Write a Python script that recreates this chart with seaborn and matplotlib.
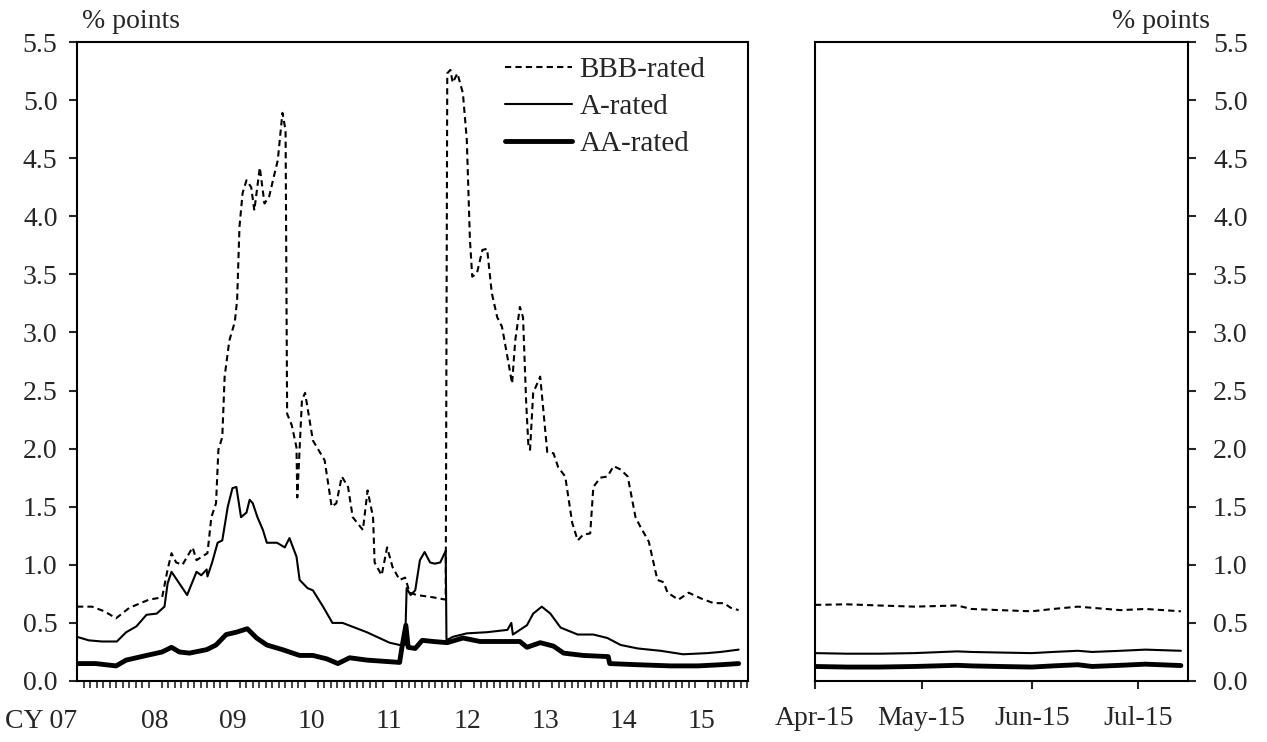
import numpy as np
import pandas as pd
import seaborn as sns
import matplotlib
matplotlib.use('Agg')
import matplotlib.pyplot as plt
from matplotlib.ticker import MultipleLocator

# ---- long history (x = calendar year, decimal) ----
bbb_t = [2007.00, 2007.19, 2007.35, 2007.50, 2007.67, 2007.92, 2008.09, 2008.16, 2008.21, 2008.27,
         2008.35, 2008.48, 2008.53, 2008.67, 2008.72, 2008.78, 2008.81, 2008.86, 2008.89, 2008.95,
         2009.02, 2009.05, 2009.08, 2009.12, 2009.17, 2009.23, 2009.27, 2009.34, 2009.40, 2009.46,
         2009.53, 2009.57, 2009.63, 2009.67, 2009.69, 2009.75, 2009.81, 2009.82, 2009.88, 2009.92,
         2010.02, 2010.17, 2010.26, 2010.32, 2010.39, 2010.47, 2010.53, 2010.66, 2010.72, 2010.79,
         2010.81, 2010.90, 2010.97, 2011.04, 2011.13, 2011.20, 2011.26, 2011.35, 2011.56, 2011.72,
         2011.74, 2011.78, 2011.81, 2011.87, 2011.94, 2011.99, 2012.03, 2012.06, 2012.12, 2012.19,
         2012.25, 2012.31, 2012.38, 2012.44, 2012.51, 2012.57, 2012.61, 2012.67, 2012.71, 2012.75,
         2012.78, 2012.80, 2012.84, 2012.93, 2013.02, 2013.10, 2013.16, 2013.25, 2013.34, 2013.41,
         2013.48, 2013.57, 2013.61, 2013.70, 2013.79, 2013.87, 2013.96, 2014.05, 2014.15, 2014.21,
         2014.32, 2014.43, 2014.51, 2014.56, 2014.70, 2014.83, 2014.99, 2015.15, 2015.28, 2015.37,
         2015.47]
bbb_v = [0.64, 0.64, 0.60, 0.54, 0.63, 0.70, 0.72, 0.96, 1.10, 1.02,
         1.00, 1.15, 1.04, 1.10, 1.41, 1.53, 1.99, 2.10, 2.62, 2.93,
         3.09, 3.28, 3.91, 4.20, 4.31, 4.25, 4.05, 4.42, 4.11, 4.17,
         4.37, 4.48, 4.89, 4.74, 2.30, 2.20, 2.01, 1.58, 2.42, 2.48,
         2.07, 1.90, 1.50, 1.53, 1.76, 1.67, 1.41, 1.30, 1.64, 1.41,
         1.02, 0.91, 1.15, 0.98, 0.87, 0.89, 0.76, 0.74, 0.72, 0.70,
         5.23, 5.26, 5.15, 5.23, 5.06, 4.66, 3.80, 3.48, 3.51, 3.71,
         3.72, 3.34, 3.13, 3.05, 2.79, 2.56, 2.93, 3.22, 3.13, 2.40,
         2.01, 1.99, 2.48, 2.62, 1.97, 1.96, 1.84, 1.76, 1.36, 1.21,
         1.26, 1.27, 1.67, 1.75, 1.76, 1.85, 1.82, 1.76, 1.41, 1.33,
         1.20, 0.87, 0.85, 0.76, 0.70, 0.76, 0.71, 0.67, 0.67, 0.63,
         0.61]

a_t = [2007.00, 2007.15, 2007.32, 2007.51, 2007.63, 2007.76, 2007.89, 2008.02, 2008.12, 2008.16,
       2008.21, 2008.31, 2008.41, 2008.53, 2008.59, 2008.66, 2008.67, 2008.73, 2008.80, 2008.86,
       2008.93, 2008.99, 2009.04, 2009.10, 2009.17, 2009.21, 2009.25, 2009.31, 2009.38, 2009.43,
       2009.56, 2009.66, 2009.72, 2009.81, 2009.85, 2009.95, 2010.02, 2010.15, 2010.27, 2010.40,
       2010.71, 2011.00, 2011.13, 2011.20, 2011.22, 2011.27, 2011.33, 2011.39, 2011.45, 2011.52,
       2011.58, 2011.65, 2011.72, 2011.73, 2011.81, 2011.99, 2012.25, 2012.51, 2012.56, 2012.58,
       2012.76, 2012.84, 2012.95, 2013.06, 2013.19, 2013.41, 2013.61, 2013.79, 2013.96, 2014.18,
       2014.47, 2014.76, 2015.07, 2015.24, 2015.47]
a_v = [0.38, 0.35, 0.34, 0.34, 0.42, 0.47, 0.57, 0.58, 0.64, 0.84,
       0.94, 0.84, 0.74, 0.94, 0.91, 0.96, 0.90, 1.02, 1.19, 1.21,
       1.50, 1.66, 1.67, 1.41, 1.45, 1.56, 1.53, 1.41, 1.30, 1.19,
       1.19, 1.15, 1.23, 1.07, 0.87, 0.80, 0.78, 0.64, 0.50, 0.50,
       0.42, 0.33, 0.31, 0.31, 0.80, 0.74, 0.78, 1.04, 1.11, 1.02,
       1.01, 1.02, 1.12, 0.35, 0.38, 0.41, 0.42, 0.44, 0.50, 0.40,
       0.48, 0.58, 0.64, 0.58, 0.46, 0.40, 0.40, 0.37, 0.31, 0.28,
       0.26, 0.23, 0.24, 0.25, 0.27]

aa_t = [2007.00, 2007.24, 2007.50, 2007.63, 2007.89, 2008.09, 2008.21, 2008.31, 2008.44, 2008.66,
        2008.78, 2008.91, 2009.04, 2009.18, 2009.30, 2009.43, 2009.63, 2009.85, 2010.02, 2010.20,
        2010.34, 2010.49, 2010.71, 2010.92, 2011.13, 2011.16, 2011.21, 2011.24, 2011.33, 2011.42,
        2011.56, 2011.74, 2011.94, 2012.16, 2012.42, 2012.67, 2012.76, 2012.93, 2013.10, 2013.23,
        2013.48, 2013.80, 2013.82, 2014.18, 2014.60, 2014.95, 2015.24, 2015.47]
aa_v = [0.15, 0.15, 0.13, 0.18, 0.22, 0.25, 0.29, 0.25, 0.24, 0.27,
        0.31, 0.40, 0.42, 0.45, 0.37, 0.31, 0.27, 0.22, 0.22, 0.19,
        0.15, 0.20, 0.18, 0.17, 0.16, 0.29, 0.48, 0.29, 0.28, 0.35,
        0.34, 0.33, 0.37, 0.34, 0.34, 0.34, 0.29, 0.33, 0.30, 0.24,
        0.22, 0.21, 0.15, 0.14, 0.13, 0.13, 0.14, 0.15]

year_ticks = [2007, 2008, 2009, 2010, 2011, 2012, 2013, 2014, 2015]
year_labels = ['CY 07', '08', '09', '10', '11', '12', '13', '14', '15']

# ---- recent months ----
recent_dates = ['2015-04-01', '2015-04-10', '2015-04-19', '2015-04-29', '2015-05-11', '2015-05-15',
                '2015-05-23', '2015-06-01', '2015-06-07', '2015-06-14', '2015-06-18', '2015-06-26',
                '2015-07-03', '2015-07-13']
recent_bbb = [0.655, 0.66, 0.65, 0.64, 0.65, 0.62, 0.61, 0.60, 0.62, 0.64, 0.63, 0.61, 0.62, 0.60]
recent_a = [0.24, 0.235, 0.235, 0.24, 0.255, 0.25, 0.245, 0.24, 0.25, 0.26, 0.25, 0.26, 0.27, 0.26]
recent_aa = [0.125, 0.12, 0.12, 0.125, 0.135, 0.13, 0.125, 0.12, 0.13, 0.14, 0.125, 0.135, 0.145, 0.133]
month_ticks = ['2015-04-01', '2015-05-01', '2015-06-01', '2015-07-01']
month_labels = ['Apr-15', 'May-15', 'Jun-15', 'Jul-15']

sns.set_style('white')
plt.rcParams['font.family'] = ['Liberation Serif', 'DejaVu Serif']
plt.rcParams['font.size'] = 20

fig = plt.figure(figsize=(12.67, 7.42), dpi=100)
ax1 = fig.add_axes([77 / 1267, 61 / 742, 671 / 1267, 639 / 742])
ax2 = fig.add_axes([815 / 1267, 61 / 742, 373 / 1267, 639 / 742])

dash = (0, (3, 2))
common = dict(color='black', sort=False, estimator=None)

sns.lineplot(x=bbb_t, y=bbb_v, ax=ax1, lw=1.5, linestyle=dash, label='BBB-rated', **common)
sns.lineplot(x=a_t, y=a_v, ax=ax1, lw=1.5, label='A-rated', **common)
sns.lineplot(x=aa_t, y=aa_v, ax=ax1, lw=3.5, label='AA-rated', **common)

rd = pd.to_datetime(recent_dates)
sns.lineplot(x=rd, y=recent_bbb, ax=ax2, lw=1.5, linestyle=dash, **common)
sns.lineplot(x=rd, y=recent_a, ax=ax2, lw=1.5, **common)
sns.lineplot(x=rd, y=recent_aa, ax=ax2, lw=3.5, **common)

for ax in (ax1, ax2):
    ax.set_ylim(0, 5.5)
    ax.yaxis.set_major_locator(MultipleLocator(0.5))
    ax.yaxis.set_major_formatter(matplotlib.ticker.FormatStrFormatter('%.1f'))
    for s in ax.spines.values():
        s.set_visible(True)
        s.set_color('black')
        s.set_linewidth(1.5)
    ax.set_xlabel('')
    ax.set_ylabel('')

# left panel
ax1.set_xlim(2007, 2015.59)
ax1.set_xticks(year_ticks)
ax1.set_xticklabels(year_labels)
ax1.xaxis.set_minor_locator(MultipleLocator(1 / 12))
ax1.tick_params(axis='x', which='major', direction='in', length=9, width=1.2, pad=20, labelsize=20)
ax1.tick_params(axis='x', which='minor', direction='out', length=5, width=1.2, bottom=True)
ax1.tick_params(axis='y', direction='out', length=6, width=1.5, left=True, pad=8, labelsize=20)
ax1.get_xticklabels()[0].set_horizontalalignment('right')
ax1.legend(loc='upper left', bbox_to_anchor=(0.638, 0.977), frameon=False, fontsize=21,
           handlelength=2.3, handletextpad=0.25, labelspacing=0.36, borderpad=0, borderaxespad=0)

# right panel
ax2.set_xlim(pd.Timestamp('2015-04-01'), pd.Timestamp('2015-07-15'))
ax2.set_xticks(pd.to_datetime(month_ticks))
ax2.set_xticklabels(month_labels)
ax2.tick_params(axis='x', direction='out', length=6, width=1.5, bottom=True, pad=12, labelsize=20)
ax2.yaxis.tick_right()
ax2.tick_params(axis='y', direction='out', length=6, width=1.5, right=True, left=False, pad=12, labelsize=20)

fig.text(82 / 1267, 1 - 22 / 742, '% points', ha='left', va='center', fontsize=20)
fig.text(1210 / 1267, 1 - 22 / 742, '% points', ha='right', va='center', fontsize=20)

fig.savefig('out.png', dpi=100)
